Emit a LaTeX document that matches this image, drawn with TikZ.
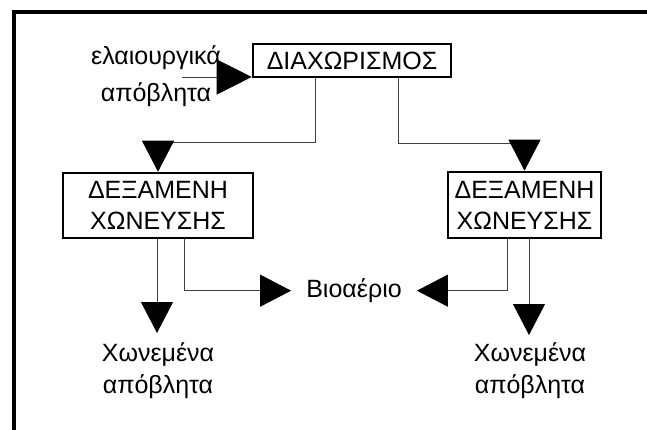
\documentclass[tikz,border=0pt]{standalone}
\usepackage{fontspec}
\setmainfont{Liberation Sans}
\usetikzlibrary{arrows.meta}
\begin{document}
\begin{tikzpicture}[x=1pt,y=-1pt,
  box/.style={draw=black,line width=2.6pt,inner sep=0pt,align=center,font=\fontsize{25}{31}\selectfont},
  lbl/.style={inner sep=0pt,align=center,font=\fontsize{25}{32}\selectfont},
  conn/.style={draw=black!75,line width=0.9pt,-{Triangle[length=31pt,width=32pt,color=black]}},
  bigconn/.style={draw=black!75,line width=0.9pt,-{Triangle[length=35pt,width=35pt,color=black]}},
]
\useasboundingbox (0,0) rectangle (647,430);
\draw[line width=4pt] (14,432) -- (14,12) -- (649,12);

\node[box, minimum width=198pt, minimum height=33pt] (diax) at (352,60.5) {ΔΙΑΧΩΡΙΣΜΟΣ};
\node[box, minimum width=190pt, minimum height=65pt] (tankL) at (158,205.5) {ΔΕΞΑΜΕΝΗ\\ΧΩΝΕΥΣΗΣ};
\node[box, minimum width=153pt, minimum height=66pt] (tankR) at (524.5,205) {ΔΕΞΑΜΕΝΗ\\ΧΩΝΕΥΣΗΣ};

\node[lbl, font=\fontsize{25}{37}\selectfont, anchor=base] (inp) at (156,102) {ελαιουργικά\\απόβλητα};
\node[lbl, inner xsep=15pt, inner ysep=4pt, anchor=base] (bio) at (354,297.5) {Βιοαέριο};
\node[lbl, anchor=base] (outL) at (158,393) {Χωνεμένα\\απόβλητα};
\node[lbl, anchor=base] (outR) at (530,393) {Χωνεμένα\\απόβλητα};

\coordinate (inS) at (182,77);
\draw[bigconn] (inS) -- (inS -| diax.west);

\coordinate (jL) at (315,142);
\draw[conn] (jL |- diax.south) -- (jL) -| (tankL.north);
\coordinate (jR) at (398,143);
\draw[conn] (jR |- diax.south) -- (jR) -| (tankR.north);

\coordinate (bL) at (184,289);
\draw[conn] (bL |- tankL.south) |- (bio.west);
\coordinate (bR) at (507,291);
\draw[conn] (bR |- tankR.south) |- (bio.east);

\coordinate (oL) at (157,333);
\draw[conn] (oL |- tankL.south) -- (oL);
\coordinate (oR) at (529,335);
\draw[conn] (oR |- tankR.south) -- (oR);
\end{tikzpicture}
\end{document}
